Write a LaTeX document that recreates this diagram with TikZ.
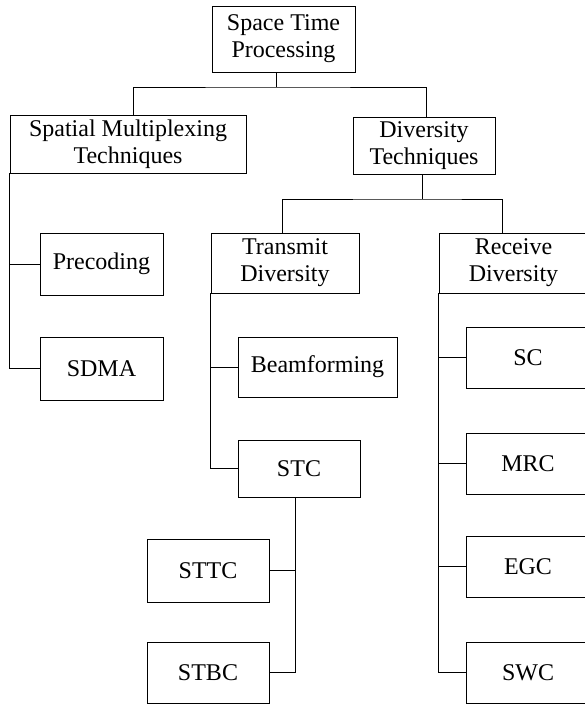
\documentclass[tikz,border=0pt]{standalone}
\usepackage{fontspec}
\setmainfont{Liberation Serif}
\usepackage{tikz}

\begin{document}
\begin{tikzpicture}[x=1pt,y=-1pt,line width=0.9pt,
  box/.style={shape=rectangle,draw,inner sep=0pt,align=center,
    font=\fontsize{24}{27}\selectfont},
  leaf/.style={box,minimum width=123pt,minimum height=61pt}]
\useasboundingbox (0,0) rectangle (584,704);
% top level
\path (283.5,39) node (stp) [box,minimum width=143pt,minimum height=66pt] {Space Time\\Processing};
\path (128,144) node (smt) [box,minimum width=236pt,minimum height=58pt] {Spatial Multiplexing\\Techniques};
\path (424,145.5) node (dt) [box,minimum width=142pt,minimum height=57pt] {Diversity\\Techniques};
% spatial multiplexing
\path (101.5,264) node (pre) [leaf,minimum height=62pt] {Precoding};
\path (101.5,368.5) node (sdma) [leaf,minimum height=63pt] {SDMA};
% diversity
\path (285,263) node (td) [box,minimum width=148pt,minimum height=60pt] {Transmit\\Diversity};
\path (513.5,263) node (rd) [box,minimum width=149pt,minimum height=60pt] {Receive\\Diversity};
\path (317.5,367) node (bf) [box,minimum width=159pt,minimum height=60pt] {Beamforming};
\path (299,468.5) node (stc) [box,minimum width=122pt,minimum height=57pt] {STC};
\path (208,570.5) node (sttc) [leaf,minimum width=122pt,minimum height=63pt] {STTC};
\path (208,672.5) node (stbc) [leaf,minimum width=122pt] {STBC};
\path (528,357.5) node (sc) [leaf,minimum width=124pt] {SC};
\path (528,463.5) node (mrc) [leaf,minimum width=124pt] {MRC};
\path (528,566.5) node (egc) [leaf,minimum width=124pt] {EGC};
\path (528,672.5) node (swc) [leaf,minimum width=124pt] {SWC};

\coordinate (bus1) at (276,87);
\coordinate (bus2) at (422,199);

\draw ([xshift=-7.5pt]stp.south) -- (bus1);
\draw ([xshift=5pt]smt.north) |- (bus1) -| ([xshift=2pt]dt.north);
\draw ([xshift=-2pt]dt.south) -- (bus2);
\draw ([xshift=-3pt]td.north) |- (bus2) -| ([xshift=-11.5pt]rd.north);

\draw (smt.south west) |- (pre.west);
\draw (smt.south west) |- (sdma.west);
\draw (td.south west) |- (bf.west);
\draw (td.south west) |- (stc.west);
\draw ([xshift=-4pt]stc.south) |- (sttc.east);
\draw ([xshift=-4pt]stc.south) |- (stbc.east);
\draw (rd.south west) |- (sc.west);
\draw (rd.south west) |- (mrc.west);
\draw (rd.south west) |- (egc.west);
\draw (rd.south west) |- (swc.west);
\end{tikzpicture}
\end{document}
